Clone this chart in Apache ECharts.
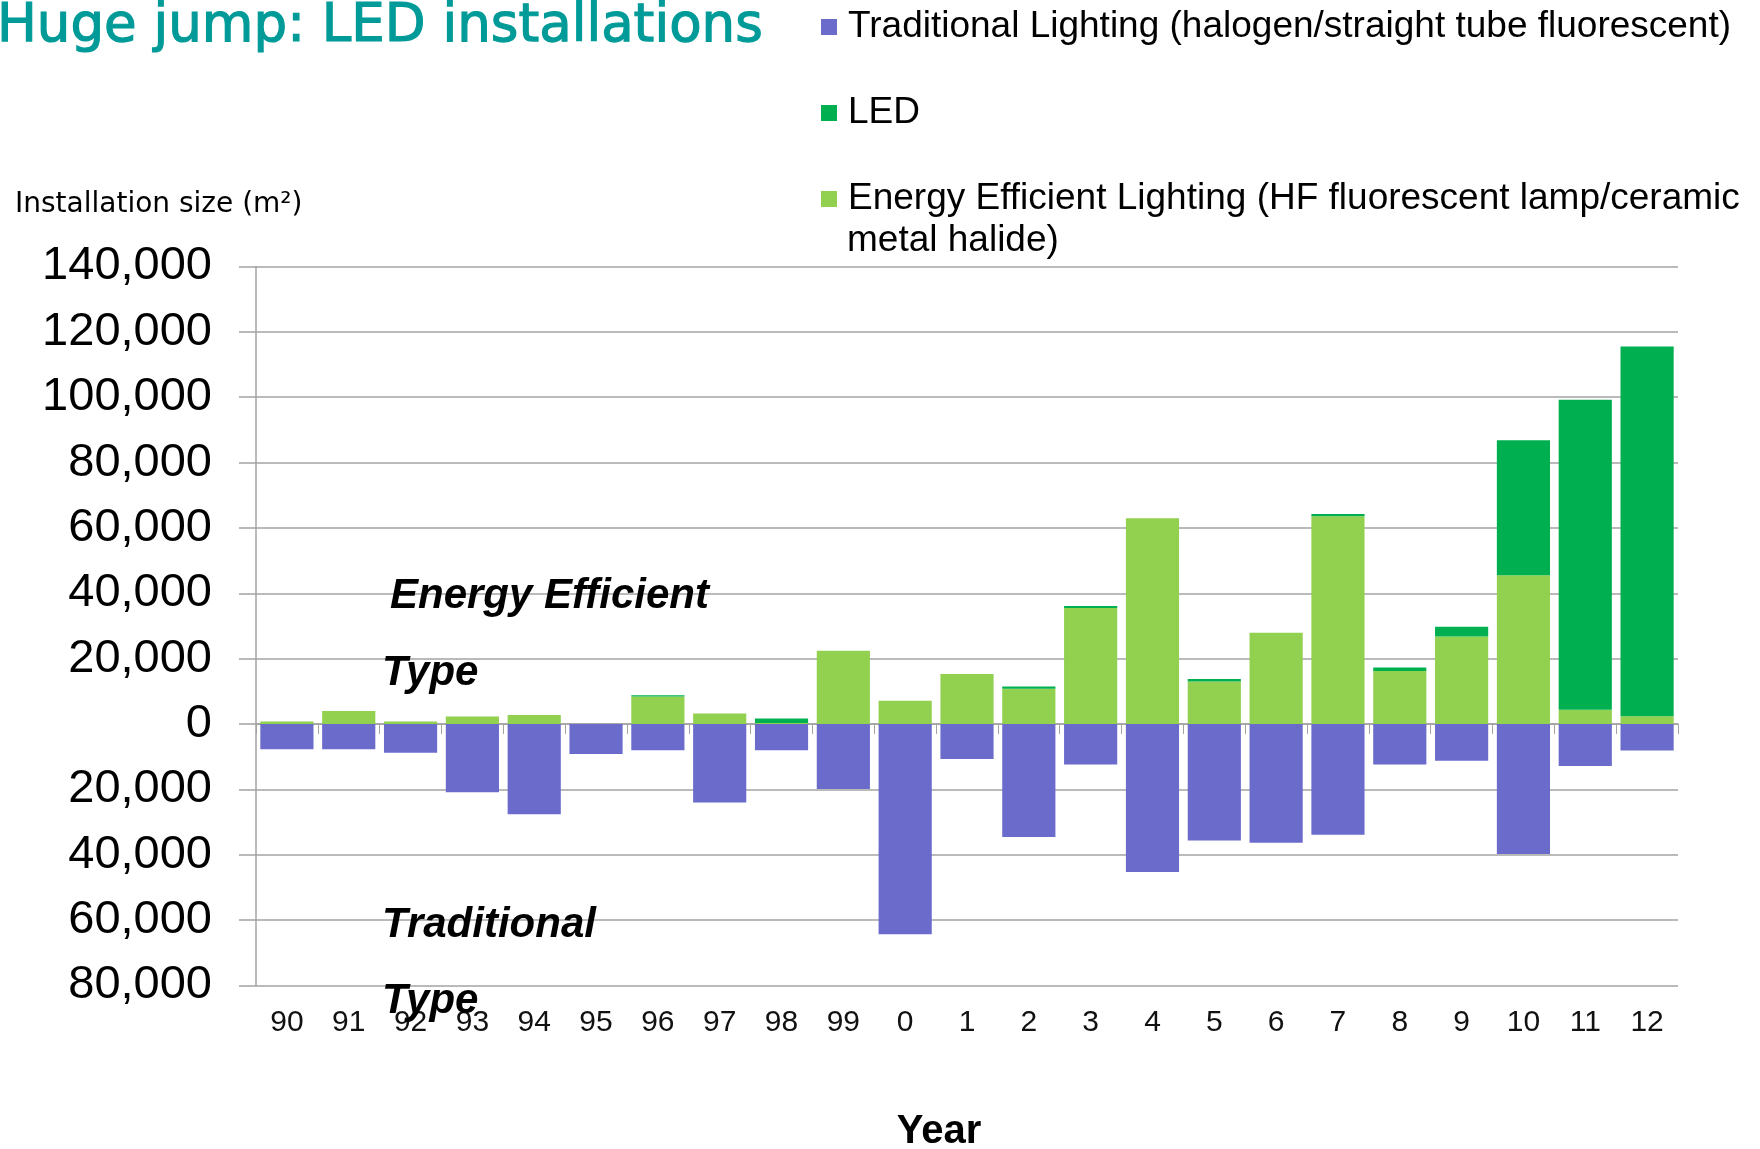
<!DOCTYPE html>
<html>
<head>
<meta charset="utf-8">
<script src="https://cdn.jsdelivr.net/npm/echarts@6/dist/echarts.min.js"></script>
<style>
  html, body { margin: 0; padding: 0; background: #fff; }
  #chart { width: 1760px; height: 1149px; }
</style>
</head>
<body>
<div id="chart"></div>
<script>
// fiscal years (19xx then 20xx)
const years = ['90', '91', '92', '93', '94', '95', '96', '97', '98', '99', '0', '1', '2', '3', '4', '5', '6', '7', '8', '9', '10', '11', '12'];

// installation size, m2 (traditional shown below zero)
const traditional = [-7700, -7700, -8800, -20900, -27600, -9200, -8000, -24000, -8000, -19900, -64300, -10700, -34600, -12400, -45300, -35600, -36300, -33900, -12400, -11200, -39800, -12800, -8100];
const efficient = [800, 4000, 800, 2300, 2800, 0, 8400, 3200, 300, 22400, 7100, 15300, 10800, 35500, 63000, 13000, 27900, 63600, 16200, 26800, 45500, 4400, 2400];
const led = [0, 0, 0, 0, 0, 0, 400, 0, 1400, 0, 0, 0, 700, 600, 0, 800, 0, 700, 1100, 3000, 41300, 94800, 113100];

const yTicks = { min: -80000, max: 140000, step: 20000 };

const names = {
  trad: 'Traditional Lighting (halogen/straight tube fluorescent)',
  led: 'LED',
  ee: 'Energy Efficient Lighting (HF fluorescent lamp/ceramic'
};

const gridColor = '#a3a3a3';
const sans = 'Liberation Sans, Arial, sans-serif';
const teal = '#009b98';

const chart = echarts.init(document.getElementById('chart'));

chart.setOption({
  animation: false,
  title: {
    text: 'Huge jump: LED installations',
    left: -8,
    top: -4,
    textStyle: {
      fontFamily: 'DejaVu Sans', fontSize: 53, fontWeight: 'normal', color: teal, lineHeight: 52,
      textBorderColor: teal, textBorderWidth: 1.2
    }
  },
  legend: {
    orient: 'vertical',
    left: 816,
    top: 0,
    itemWidth: 16,
    itemHeight: 16,
    itemGap: 42,
    icon: 'rect',
    data: [names.trad, names.led, names.ee],
    textStyle: { fontFamily: sans, fontSize: 37, color: '#000', lineHeight: 44, padding: [0, 0, 0, 6] }
  },
  grid: { left: 256, right: 82, top: 266.5, bottom: 163.5 },
  xAxis: [
    {
      type: 'category',
      data: years,
      axisLine: { onZero: true, onZeroAxisIndex: 0, lineStyle: { color: gridColor, width: 1.5 } },
      axisTick: { show: true, length: 10, lineStyle: { color: gridColor } },
      axisLabel: { show: false }
    },
    {
      type: 'category',
      data: years,
      position: 'bottom',
      axisLine: { show: false, onZero: false },
      axisTick: { show: false },
      axisLabel: { margin: 22, fontFamily: sans, fontSize: 30, color: '#111' }
    }
  ],
  yAxis: {
    type: 'value',
    min: yTicks.min,
    max: yTicks.max,
    interval: yTicks.step,
    axisLine: { show: true, lineStyle: { color: gridColor, width: 1.5 } },
    axisTick: { show: true, length: 17, lineStyle: { color: gridColor, width: 1.5 } },
    splitLine: { lineStyle: { color: gridColor, width: 1.5 } },
    axisLabel: {
      margin: 44,
      fontFamily: sans,
      fontSize: 47,
      color: '#000',
      formatter: v => Math.abs(v).toLocaleString('en-US')
    }
  },
  series: [
    {
      name: names.trad,
      type: 'bar',
      stack: 'all',
      barCategoryGap: '14%',
      data: traditional,
      itemStyle: { color: '#6b6bcb' }
    },
    {
      name: names.ee,
      type: 'bar',
      stack: 'all',
      data: efficient,
      itemStyle: { color: '#92d050' }
    },
    {
      name: names.led,
      type: 'bar',
      stack: 'all',
      data: led,
      itemStyle: { color: '#00b050' }
    }
  ],
  graphic: [
    { type: 'text', left: 847, top: 222, style: { text: 'metal halide)', font: '37px ' + sans, fill: '#000' } },
    { type: 'text', x: 15, y: 205, style: { text: 'Installation size (m²)', font: '28px DejaVu Sans', fill: '#000', verticalAlign: 'middle' } },
    { type: 'text', x: 939, y: 1132, z: 10, style: { text: 'Year', font: 'bold 40px ' + sans, fill: '#000', align: 'center', verticalAlign: 'middle' } },
    { type: 'text', x: 390, y: 596, z: 10, style: { text: 'Energy Efficient', font: 'italic bold 42px ' + sans, fill: '#000', verticalAlign: 'middle' } },
    { type: 'text', x: 382, y: 673, z: 10, style: { text: 'Type', font: 'italic bold 42px ' + sans, fill: '#000', verticalAlign: 'middle' } },
    { type: 'text', x: 382, y: 925, z: 10, style: { text: 'Traditional', font: 'italic bold 42px ' + sans, fill: '#000', verticalAlign: 'middle' } },
    { type: 'text', x: 382, y: 1001, z: 10, style: { text: 'Type', font: 'italic bold 42px ' + sans, fill: '#000', verticalAlign: 'middle' } }
  ]
});

window.addEventListener('resize', () => chart.resize());
</script>
</body>
</html>
